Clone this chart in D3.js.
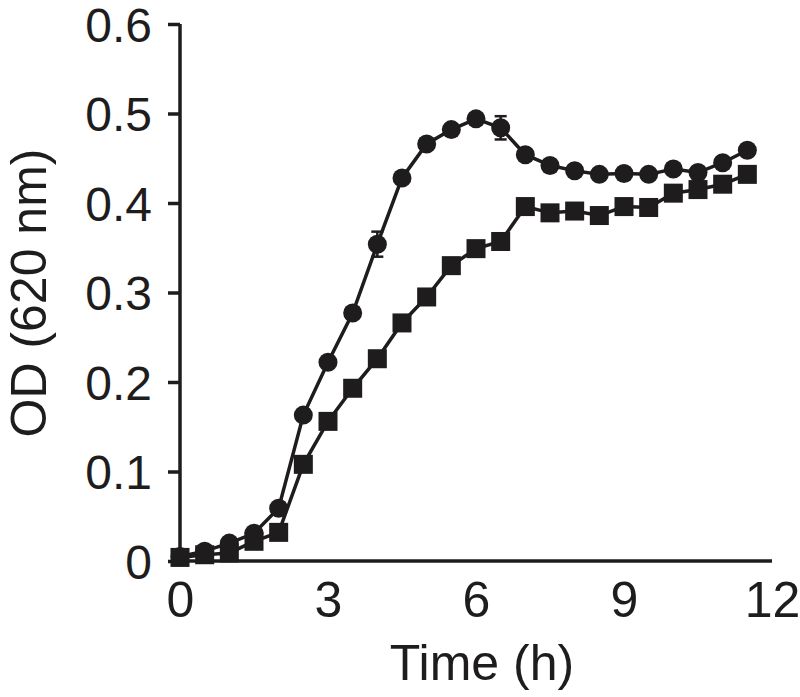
<!DOCTYPE html>
<html>
<head>
<meta charset="utf-8">
<script src="https://cdn.jsdelivr.net/npm/d3@7"></script>
<style>
html,body{margin:0;padding:0;background:#fff;}
svg{display:block;}
text{font-family:"Liberation Sans",Arial,sans-serif;fill:#1e1c1d;}
</style>
</head>
<body>
<svg id="chart" width="800" height="697"></svg>
<script>
const times = [0,0.5,1,1.5,2,2.5,3,3.5,4,4.5,5,5.5,6,6.5,7,7.5,8,8.5,9,9.5,10,10.5,11,11.5];
const circleValues = [0.005,0.011,0.020,0.031,0.059,0.163,0.222,0.277,0.354,0.428,0.466,0.482,0.494,0.484,0.454,0.442,0.436,0.432,0.433,0.432,0.438,0.434,0.445,0.459];
const circleErrors = [0,0,0,0,0,0,0,0,0.014,0,0,0,0,0.013,0,0,0,0,0,0,0,0,0,0];
const squareValues = [0.004,0.007,0.009,0.022,0.032,0.108,0.156,0.193,0.226,0.266,0.295,0.330,0.349,0.357,0.396,0.389,0.391,0.386,0.396,0.395,0.411,0.415,0.421,0.432];
const xTicks = [0,3,6,9,12];
const yTicks = [0,0.1,0.2,0.3,0.4,0.5,0.6];
const xLabel = "Time (h)";
const yLabel = "OD (620 nm)";

const ink = "#1e1c1d";
const svg = d3.select("#chart");
const x = d3.scaleLinear().domain([0,12]).range([180,772]);
const y = d3.scaleLinear().domain([0,0.6]).range([561,24]);

// Y axis
const yAxis = d3.axisLeft(y).tickValues(yTicks).tickSize(12).tickPadding(16)
  .tickFormat(d => d === 0 ? "0" : d3.format(".1f")(d));
const gy = svg.append("g").attr("transform", `translate(${x(0)},0)`).call(yAxis);
gy.select(".domain").attr("d", `M0,${y(0.6)}V${y(0)+1.5}`).attr("stroke", ink).attr("stroke-width", 3.5);
gy.selectAll(".tick line").attr("stroke", ink).attr("stroke-width", 3.5);
gy.selectAll(".tick text").attr("font-size", 48).attr("dy", "0.36em").style("font-family","Liberation Sans, Arial, sans-serif").attr("fill", ink);

// X axis
const xAxis = d3.axisBottom(x).tickValues(xTicks).tickSize(0).tickPadding(20).tickFormat(d3.format("d"));
const gx = svg.append("g").attr("transform", `translate(0,${y(0)})`).call(xAxis);
gx.select(".domain").attr("d", `M${x(0)},0H${x(12)}`).attr("stroke", ink).attr("stroke-width", 3.5);
gx.selectAll(".tick text").attr("font-size", 50).attr("dy", "0.71em").style("font-family","Liberation Sans, Arial, sans-serif").attr("fill", ink);

// Titles
svg.append("text").attr("x", 482).attr("y", 680).attr("text-anchor","middle")
  .attr("font-size", 50).text(xLabel);
svg.append("text").attr("transform", `translate(46,${293}) rotate(-90)`).attr("text-anchor","middle")
  .attr("font-size", 50).text(yLabel);

const line = d3.line().x(d => x(d[0])).y(d => y(d[1]));
const circData = times.map((t,i) => [t, circleValues[i], circleErrors[i]]);
const sqData = times.map((t,i) => [t, squareValues[i]]);

// lines
svg.append("path").datum(circData).attr("d", line).attr("fill","none").attr("stroke", ink).attr("stroke-width", 3.5);
svg.append("path").datum(sqData).attr("d", line).attr("fill","none").attr("stroke", ink).attr("stroke-width", 3.5);

// error bars
const eb = svg.append("g");
circData.filter(d => d[2] > 0).forEach(d => {
  const cx = x(d[0]);
  eb.append("line").attr("x1",cx).attr("x2",cx).attr("y1",y(d[1]-d[2])).attr("y2",y(d[1]+d[2])).attr("stroke",ink).attr("stroke-width",2.5);
  [d[1]-d[2], d[1]+d[2]].forEach(v => {
    eb.append("line").attr("x1",cx-6).attr("x2",cx+6).attr("y1",y(v)).attr("y2",y(v)).attr("stroke",ink).attr("stroke-width",2.5);
  });
});

// circles
svg.append("g").selectAll("circle").data(circData).join("circle")
  .attr("cx", d => x(d[0])).attr("cy", d => y(d[1])).attr("r", 9.5).attr("fill", ink);

// squares
svg.append("g").selectAll("rect").data(sqData).join("rect")
  .attr("x", d => x(d[0]) - 9.5).attr("y", d => y(d[1]) - 9.5).attr("width", 19).attr("height", 19).attr("fill", ink);
</script>
</body>
</html>
